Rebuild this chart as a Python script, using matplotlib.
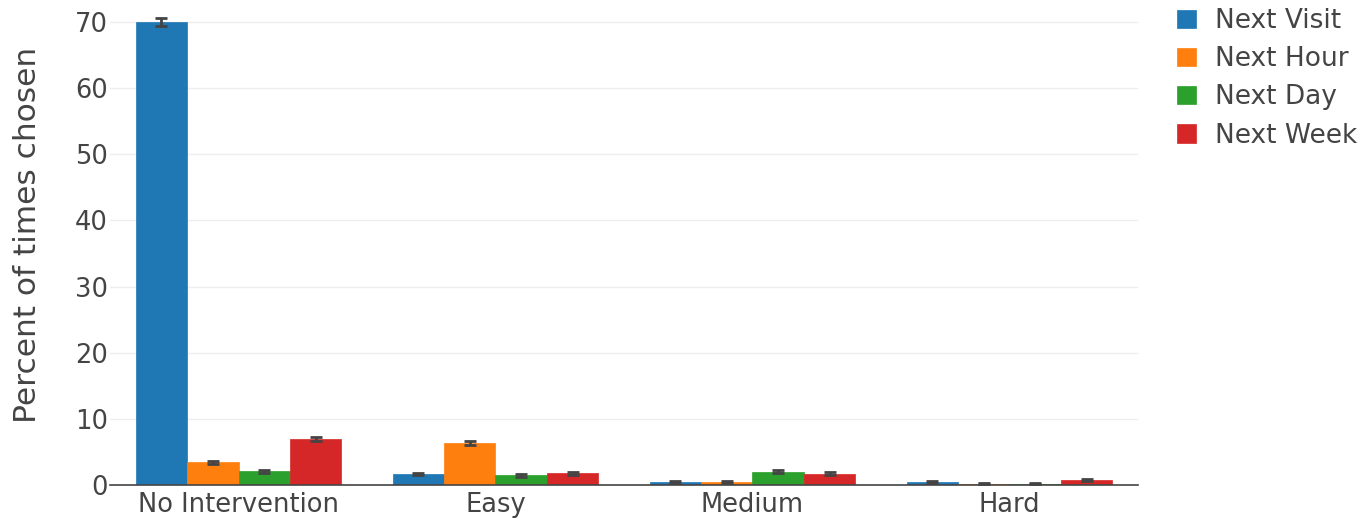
import numpy as np
import matplotlib.pyplot as plt

# Data
categories = ['No Intervention', 'Easy', 'Medium', 'Hard']
series_names = ['Next Visit', 'Next Hour', 'Next Day', 'Next Week']
next_visit = [70.0, 1.66, 0.5, 0.4]
next_hour = [3.45, 6.4, 0.4, 0.2]
next_day = [2.07, 1.47, 2.0, 0.2]
next_week = [6.95, 1.77, 1.7, 0.7]
err_visit = [0.6, 0.2, 0.15, 0.15]
err_hour = [0.25, 0.3, 0.15, 0.1]
err_day = [0.2, 0.2, 0.2, 0.1]
err_week = [0.3, 0.2, 0.2, 0.15]

colors = ['#1f77b4', '#ff7f0e', '#2ca02c', '#d62728']
text_color = '#444444'

plt.rcParams['font.family'] = ['DejaVu Sans']

fig = plt.figure(figsize=(13.72, 5.19), dpi=100)
ax = fig.add_axes([0.0802, 0.0655, 0.7492, 0.911])

values = [next_visit, next_hour, next_day, next_week]
errors = [err_visit, err_hour, err_day, err_week]
x = np.arange(len(categories))
group_width = 0.8
bar_w = group_width / len(series_names)

for i, (name, vals, errs) in enumerate(zip(series_names, values, errors)):
    pos = x - group_width / 2 + bar_w * (i + 0.5)
    ax.bar(pos, vals, width=bar_w, color=colors[i], label=name, zorder=2,
           edgecolor=colors[i], linewidth=0.5)
    ax.errorbar(pos, vals, yerr=errs, fmt='none', ecolor=text_color,
                elinewidth=2, capsize=4.5, capthick=2, zorder=3)

ax.set_xlim(-0.5, 3.5)
ax.set_ylim(0, 71.5)
ax.set_yticks(range(0, 80, 10))
ax.set_xticks(x)
ax.set_xticklabels(categories)
ax.tick_params(axis='both', length=0, labelsize=18.5, colors=text_color)
ax.tick_params(axis='x', pad=5)
ax.tick_params(axis='y', pad=1.5)
ax.grid(axis='y', color='#eeeeee', linewidth=1, zorder=0)
for s in ['top', 'right', 'left']:
    ax.spines[s].set_visible(False)
ax.spines['bottom'].set_color(text_color)
ax.spines['bottom'].set_linewidth(1.2)
ax.spines['bottom'].set_zorder(4)
ax.set_ylabel('Percent of times chosen', fontsize=22.5, color=text_color)
ax.yaxis.set_label_coords(-0.066, 0.529)

leg = fig.legend(loc='upper left', bbox_to_anchor=(0.8406, 1.03), frameon=False,
                 fontsize=19, handlelength=0.7, handleheight=0.7,
                 handletextpad=0.72, labelspacing=0.46)
for t in leg.get_texts():
    t.set_color(text_color)

fig.savefig('out.png', dpi=100)
